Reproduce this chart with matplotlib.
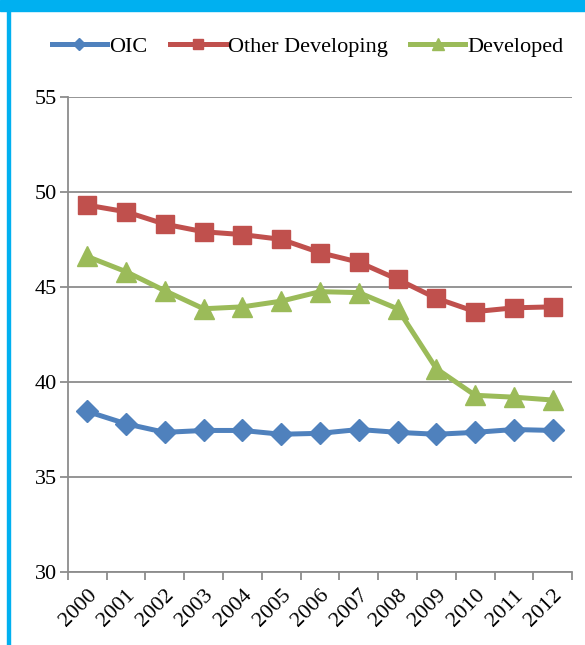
import matplotlib.pyplot as plt
from matplotlib.patches import Rectangle

# data
years = ['2000', '2001', '2002', '2003', '2004', '2005', '2006',
         '2007', '2008', '2009', '2010', '2011', '2012']
oic = [38.45, 37.8, 37.35, 37.45, 37.45, 37.25, 37.3, 37.5, 37.35, 37.25, 37.35, 37.5, 37.45]
other_dev = [49.3, 48.95, 48.3, 47.9, 47.75, 47.5, 46.8, 46.3, 45.4, 44.4, 43.7, 43.9, 43.95]
developed = [46.6, 45.8, 44.8, 43.85, 43.95, 44.25, 44.75, 44.7, 43.85, 40.7, 39.3, 39.2, 39.05]

plt.rcParams['font.family'] = ['Liberation Serif', 'DejaVu Serif']
plt.rcParams['font.size'] = 16

fig = plt.figure(figsize=(5.85, 6.45), dpi=100)
ax = fig.add_axes([0.116, 0.113, 0.862, 0.737])

x = list(range(len(years)))
ax.plot(x, oic, color='#4F81BD', lw=3.6, marker='D', ms=11, label='OIC')
ax.plot(x, other_dev, color='#C0504D', lw=3.6, marker='s', ms=13, label='Other Developing')
ax.plot(x, developed, color='#9BBB59', lw=3.6, marker='^', ms=15, label='Developed')

ax.set_xlim(-0.5, len(years) - 0.5)
ax.set_ylim(30, 55)
ax.set_yticks([30, 35, 40, 45, 50, 55])
ax.yaxis.grid(True, color='#8C8C8C', lw=1.3)
ax.set_axisbelow(True)

ax.set_xticks(x)
ax.set_xticklabels(years, rotation=45, ha='right', rotation_mode='anchor')
ax.set_xticks([i - 0.5 for i in range(len(years) + 1)], minor=True)
ax.tick_params(axis='x', which='major', length=0, pad=10)
ax.tick_params(axis='x', which='minor', length=6, color='#8C8C8C', width=1.3)
ax.tick_params(axis='y', length=6, color='#8C8C8C', width=1.3, pad=2)

for side in ['top', 'right']:
    ax.spines[side].set_visible(False)
for side in ['left', 'bottom']:
    ax.spines[side].set_color('#8C8C8C')
    ax.spines[side].set_linewidth(1.3)

leg = fig.legend(loc='center', bbox_to_anchor=(0.526, 0.928), ncol=3, frameon=False,
                 handlelength=2.5, columnspacing=1.0, handletextpad=0.1, fontsize=16,
                 markerscale=0.6)

# blue frame (top bar and left edge)
fig.patches.append(Rectangle((0, 1 - 11 / 645), 1, 11 / 645, transform=fig.transFigure,
                             color='#00B0F0', zorder=0))
fig.patches.append(Rectangle((7 / 585, 0), 2.5 / 585, 1, transform=fig.transFigure,
                             color='#00B0F0', zorder=0))

fig.savefig('out.png', dpi=100, facecolor='white')
